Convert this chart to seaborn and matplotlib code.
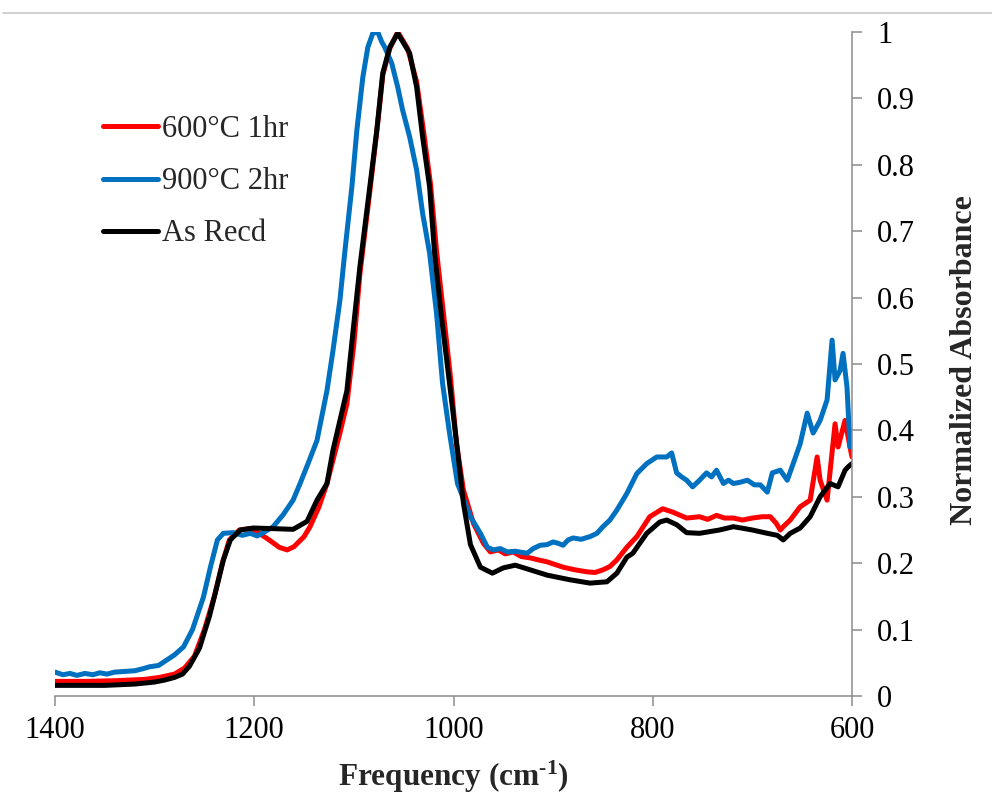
import numpy as np
import pandas as pd
import matplotlib
matplotlib.use("Agg")
import matplotlib.pyplot as plt
from matplotlib.lines import Line2D
import seaborn as sns

# ---------------- data ----------------
series_names = ["600°C 1hr", "900°C 2hr", "As Recd"]
series_colors = ["#FF0000", "#0070C0", "#000000"]

red_x = [1400, 1370, 1340, 1310, 1295, 1280, 1270, 1260, 1250, 1240,
         1232, 1225, 1215, 1205, 1195, 1185, 1175, 1167, 1160, 1150,
         1144, 1135, 1127, 1114, 1107, 1100, 1094, 1084, 1077, 1071,
         1064, 1056, 1046, 1037, 1030, 1023, 1017, 1010, 1003, 997,
         990, 980, 970, 963, 955, 948, 940, 932, 923, 915,
         906, 898, 890, 878, 866, 858, 850, 843, 836, 826,
         816, 803, 790, 780, 766, 753, 745, 736, 728, 719,
         710, 700, 690, 682, 676, 672, 669, 662, 652, 642,
         635, 632, 625, 617, 614, 607, 602, 600]
red_y = [0.022, 0.022, 0.023, 0.025, 0.028, 0.033, 0.042, 0.060, 0.100, 0.150,
         0.200, 0.235, 0.250, 0.252, 0.245, 0.235, 0.224, 0.220, 0.225, 0.240,
         0.255, 0.285, 0.320, 0.396, 0.440, 0.530, 0.635, 0.760, 0.850, 0.935,
         0.975, 1.000, 0.975, 0.925, 0.850, 0.770, 0.670, 0.575, 0.480, 0.380,
         0.310, 0.260, 0.230, 0.217, 0.220, 0.214, 0.217, 0.210, 0.208, 0.205,
         0.202, 0.198, 0.194, 0.190, 0.187, 0.186, 0.190, 0.195, 0.205, 0.224,
         0.240, 0.270, 0.282, 0.277, 0.268, 0.270, 0.266, 0.272, 0.268, 0.268,
         0.265, 0.268, 0.270, 0.270, 0.260, 0.250, 0.255, 0.265, 0.285, 0.295,
         0.360, 0.325, 0.295, 0.410, 0.375, 0.415, 0.375, 0.360]

blue_x = [1400, 1392, 1385, 1378, 1370, 1362, 1355, 1348, 1340, 1330,
          1320, 1312, 1305, 1296, 1288, 1280, 1271, 1262, 1251, 1244,
          1237, 1231, 1221, 1212, 1204, 1197, 1191, 1181, 1171, 1161,
          1154, 1146, 1137, 1127, 1121, 1114, 1109, 1102, 1097, 1091,
          1086, 1081, 1076, 1072, 1069, 1062, 1056, 1051, 1044, 1037,
          1031, 1024, 1017, 1011, 1004, 996, 983, 973, 966, 960,
          953, 946, 938, 926, 920, 913, 906, 900, 895, 890,
          885, 880, 872, 863, 856, 850, 843, 836, 826, 816,
          806, 796, 786, 781, 776, 771, 766, 760, 753, 746,
          741, 736, 729, 724, 719, 712, 705, 698, 692, 685,
          680, 672, 665, 659, 652, 645, 639, 632, 625, 620,
          617, 612, 609, 605, 602, 600]
blue_y = [0.036, 0.032, 0.034, 0.031, 0.034, 0.032, 0.035, 0.033, 0.036, 0.037,
          0.038, 0.041, 0.044, 0.046, 0.054, 0.062, 0.074, 0.100, 0.149, 0.194,
          0.235, 0.245, 0.246, 0.242, 0.245, 0.241, 0.246, 0.255, 0.273, 0.295,
          0.320, 0.350, 0.385, 0.460, 0.520, 0.596, 0.670, 0.767, 0.852, 0.932,
          0.977, 0.998, 1.000, 0.985, 0.977, 0.953, 0.917, 0.882, 0.842, 0.792,
          0.727, 0.667, 0.576, 0.471, 0.396, 0.320, 0.270, 0.245, 0.224, 0.220,
          0.222, 0.217, 0.218, 0.215, 0.222, 0.227, 0.228, 0.232, 0.230, 0.227,
          0.235, 0.238, 0.236, 0.240, 0.245, 0.255, 0.265, 0.280, 0.305, 0.335,
          0.350, 0.360, 0.360, 0.366, 0.336, 0.330, 0.325, 0.315, 0.325, 0.336,
          0.330, 0.340, 0.320, 0.325, 0.320, 0.322, 0.325, 0.318, 0.318, 0.307,
          0.336, 0.340, 0.325, 0.350, 0.380, 0.426, 0.396, 0.415, 0.446, 0.536,
          0.476, 0.490, 0.516, 0.465, 0.375, 0.400]

black_x = [1400, 1380, 1350, 1320, 1300, 1290, 1280, 1272, 1265, 1255,
           1245, 1238, 1231, 1224, 1214, 1201, 1180, 1161, 1147, 1137,
           1127, 1121, 1107, 1101, 1094, 1084, 1077, 1071, 1064, 1056,
           1044, 1037, 1031, 1024, 1019, 1012, 1004, 996, 990, 983,
           973, 961, 950, 938, 923, 906, 883, 863, 846, 836,
           826, 820, 806, 793, 786, 776, 766, 753, 733, 719,
           700, 685, 675, 669, 662, 652, 642, 632, 622, 614,
           607, 604, 600]
black_y = [0.016, 0.016, 0.016, 0.018, 0.021, 0.024, 0.028, 0.033, 0.045, 0.072,
           0.120, 0.162, 0.205, 0.235, 0.250, 0.253, 0.252, 0.251, 0.263, 0.295,
           0.320, 0.370, 0.460, 0.547, 0.646, 0.767, 0.852, 0.938, 0.977, 0.998,
           0.968, 0.917, 0.842, 0.767, 0.667, 0.570, 0.471, 0.370, 0.290, 0.228,
           0.194, 0.185, 0.193, 0.197, 0.190, 0.182, 0.175, 0.170, 0.172, 0.185,
           0.209, 0.215, 0.245, 0.262, 0.265, 0.258, 0.246, 0.245, 0.250, 0.255,
           0.250, 0.245, 0.242, 0.235, 0.245, 0.253, 0.270, 0.300, 0.320, 0.315,
           0.340, 0.345, 0.350]

x_ticks = [1400, 1200, 1000, 800, 600]
y_ticks = [0, 0.1, 0.2, 0.3, 0.4, 0.5, 0.6, 0.7, 0.8, 0.9, 1.0]
y_tick_labels = ["0", "0.1", "0.2", "0.3", "0.4", "0.5", "0.6", "0.7", "0.8", "0.9", "1"]

# ---------------- build long table ----------------
frames = []
for name, xs, ys in zip(series_names, [red_x, blue_x, black_x], [red_y, blue_y, black_y]):
    frames.append(pd.DataFrame({"freq": xs, "absorb": ys, "series": name}))
df = pd.concat(frames, ignore_index=True)

# ---------------- style ----------------
sns.set_theme(style="white")
plt.rcParams["font.family"] = ["Liberation Serif", "DejaVu Serif"]
plt.rcParams["mathtext.fontset"] = "custom"
plt.rcParams["mathtext.rm"] = "Liberation Serif"
plt.rcParams["mathtext.bf"] = "Liberation Serif:bold"
plt.rcParams["mathtext.it"] = "Liberation Serif:italic"

gray = "#8c8c8c"
W, H = 992, 795
fig = plt.figure(figsize=(W / 100, H / 100), dpi=100)
ax = fig.add_axes([55 / W, 1 - 696 / H, 797 / W, 664 / H])

palette = dict(zip(series_names, series_colors))
sns.lineplot(data=df, x="freq", y="absorb", hue="series", hue_order=series_names,
             palette=palette, estimator=None, sort=False, units="series",
             linewidth=3.6, legend=False, ax=ax)

ax.set_xlim(1400, 600)
ax.set_ylim(0, 1)
ax.set_xticks(x_ticks)
ax.set_xticklabels([str(v) for v in x_ticks])
ax.set_yticks(y_ticks)
ax.set_yticklabels(y_tick_labels)

ax.yaxis.tick_right()
ax.yaxis.set_label_position("right")
for s in ["left", "top"]:
    ax.spines[s].set_visible(False)
for s in ["right", "bottom"]:
    ax.spines[s].set_visible(True)
    ax.spines[s].set_color(gray)
    ax.spines[s].set_linewidth(1.1)

ax.tick_params(axis="both", which="major", direction="out", length=7.2, width=1.1,
               color=gray, labelsize=22, labelcolor="black")
ax.tick_params(axis="x", pad=7, bottom=True, top=False)
ax.tick_params(axis="y", pad=11, right=True, left=False)

ax.set_xlabel("Frequency (cm$^{\\mathbf{\u2010}\\mathbf{1}}$)", fontsize=22.5, fontweight="bold")
ax.xaxis.set_label_coords(0.5, -0.094)
ax.set_ylabel("Normalized Absorbance", fontsize=23, fontweight="bold")
ax.yaxis.set_label_coords(1.123, 0.506)

handles = [Line2D([0], [0], color=c, lw=3.6, solid_capstyle="round") for c in series_colors]
ax.legend(handles, series_names, loc="upper left",
          bbox_to_anchor=(103 / W, 1 - 115 / H), bbox_transform=fig.transFigure,
          frameon=False, fontsize=22, handlelength=1.8, handletextpad=0.13,
          labelspacing=0.76, borderpad=0, borderaxespad=0)

fig.add_artist(Line2D([3 / W, 1], [1 - 12.5 / H, 1 - 12.5 / H], color="#c8c8c8",
                      lw=1.2, transform=fig.transFigure))

fig.savefig("out.png", dpi=100, facecolor="white")
